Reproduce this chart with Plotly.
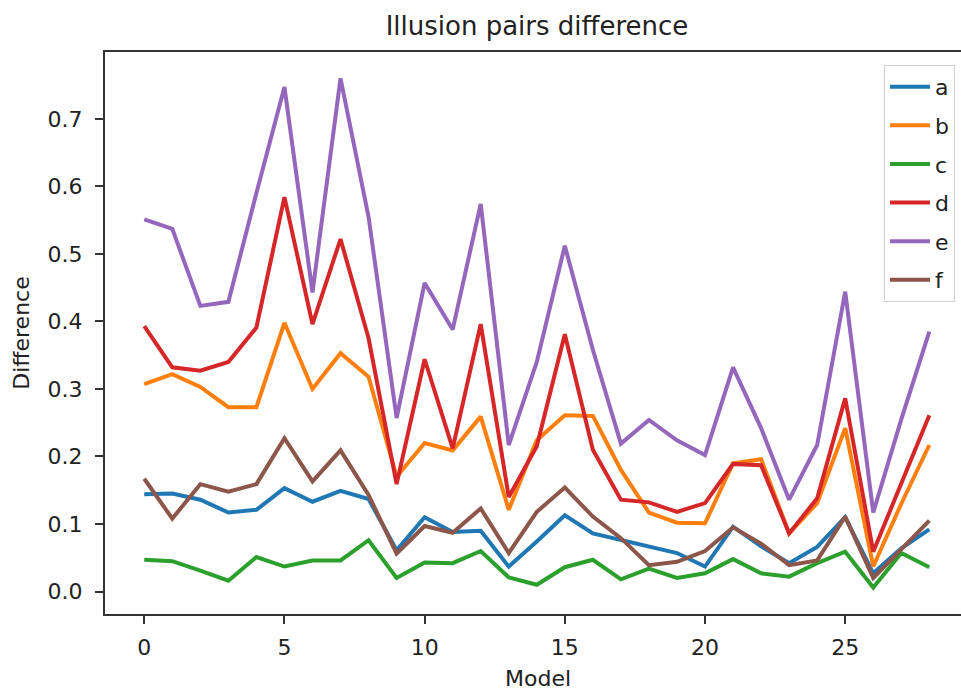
import plotly.graph_objects as go

models = list(range(29))
series_names = ["a", "b", "c", "d", "e", "f"]
colors = ["#1f77b4", "#ff7f0e", "#2ca02c", "#d62728", "#9467bd", "#8c564b"]

a = [0.144, 0.145, 0.136, 0.117, 0.121, 0.153, 0.133, 0.149, 0.137, 0.061,
     0.110, 0.088, 0.090, 0.037, 0.074, 0.113, 0.086, 0.076, 0.066, 0.057,
     0.037, 0.096, 0.067, 0.042, 0.066, 0.110, 0.027, 0.064, 0.092]
b = [0.307, 0.322, 0.303, 0.273, 0.273, 0.398, 0.300, 0.353, 0.318, 0.170,
     0.220, 0.209, 0.259, 0.121, 0.224, 0.261, 0.260, 0.180, 0.117, 0.102,
     0.101, 0.190, 0.196, 0.086, 0.131, 0.242, 0.037, 0.130, 0.217]
c = [0.047, 0.045, 0.031, 0.016, 0.051, 0.037, 0.046, 0.046, 0.076, 0.020,
     0.043, 0.042, 0.060, 0.021, 0.010, 0.036, 0.047, 0.018, 0.034, 0.020,
     0.027, 0.048, 0.027, 0.022, 0.042, 0.059, 0.006, 0.057, 0.036]
d = [0.393, 0.332, 0.327, 0.340, 0.391, 0.584, 0.396, 0.522, 0.375, 0.159,
     0.344, 0.212, 0.396, 0.140, 0.215, 0.381, 0.210, 0.136, 0.132, 0.118,
     0.131, 0.189, 0.187, 0.086, 0.138, 0.286, 0.059, 0.160, 0.261]
e = [0.551, 0.537, 0.423, 0.429, 0.590, 0.747, 0.443, 0.760, 0.555, 0.257,
     0.457, 0.388, 0.574, 0.217, 0.340, 0.512, 0.358, 0.219, 0.254, 0.224,
     0.202, 0.332, 0.242, 0.136, 0.217, 0.444, 0.117, 0.255, 0.385]
f = [0.167, 0.108, 0.159, 0.148, 0.159, 0.227, 0.163, 0.209, 0.143, 0.056,
     0.097, 0.087, 0.123, 0.057, 0.118, 0.154, 0.111, 0.079, 0.039, 0.044,
     0.060, 0.095, 0.071, 0.039, 0.046, 0.111, 0.020, 0.062, 0.105]

x_ticks = [0, 5, 10, 15, 20, 25]
y_ticks = [0.0, 0.1, 0.2, 0.3, 0.4, 0.5, 0.6, 0.7]
y_tick_labels = ["0.0", "0.1", "0.2", "0.3", "0.4", "0.5", "0.6", "0.7"]

FONT = "DejaVu Sans"
TXT = "#222222"
fig = go.Figure()
for name, vals, col in zip(series_names, [a, b, c, d, e, f], colors):
    fig.add_trace(go.Scatter(x=models, y=vals, mode="lines", name=name,
                             legendgroup=name,
                             line=dict(color=col, width=4)))

axis_color = "#333333"
fig.update_layout(
    width=961, height=691,
    margin=dict(l=105, r=0, t=52, b=77),
    paper_bgcolor="white", plot_bgcolor="white",
    font=dict(family=FONT, size=22, color=TXT),
    showlegend=True,
    legend=dict(x=0.993, y=0.977, xanchor="right", yanchor="top",
                tracegroupgap=7, itemwidth=40, entrywidth=80,
                entrywidthmode="pixels",
                bgcolor="rgba(255,255,255,0.85)", bordercolor="#d0d0d0",
                borderwidth=1, font=dict(family=FONT, size=22, color=TXT)),
    title=dict(text="Illusion pairs difference", x=537/961, xref="container",
               xanchor="center", y=1 - 26/691, yref="container", yanchor="middle",
               font=dict(family=FONT, size=26, color=TXT)),
    xaxis=dict(range=[-1.4, 29.13], tickmode="array", tickvals=x_ticks,
               ticks="outside", ticklen=8, tickwidth=2, tickcolor=axis_color,
               ticklabelstandoff=5,
               showline=True, linecolor=axis_color, linewidth=2, mirror=True,
               showgrid=False, zeroline=False,
               tickfont=dict(family=FONT, size=22, color=TXT)),
    yaxis=dict(range=[-0.0333, 0.799], tickmode="array", tickvals=y_ticks,
               ticktext=y_tick_labels,
               ticks="outside", ticklen=8, tickwidth=2, tickcolor=axis_color,
               ticklabelstandoff=8,
               showline=True, linecolor=axis_color, linewidth=2, mirror=False,
               showgrid=False, zeroline=False,
               title=dict(text="Difference", standoff=12,
                          font=dict(family=FONT, size=22, color=TXT)),
               tickfont=dict(family=FONT, size=22, color=TXT)),
    annotations=[dict(text="Model", xref="paper", yref="paper",
                      x=(538 - 105) / 856, y=-(678 - 614) / 562,
                      xanchor="center", yanchor="middle", showarrow=False,
                      font=dict(family=FONT, size=22, color=TXT))],
)

fig.write_html("out.html", config={"displayModeBar": False},
               post_script="document.body.style.margin='0';document.body.style.overflow='hidden';")
